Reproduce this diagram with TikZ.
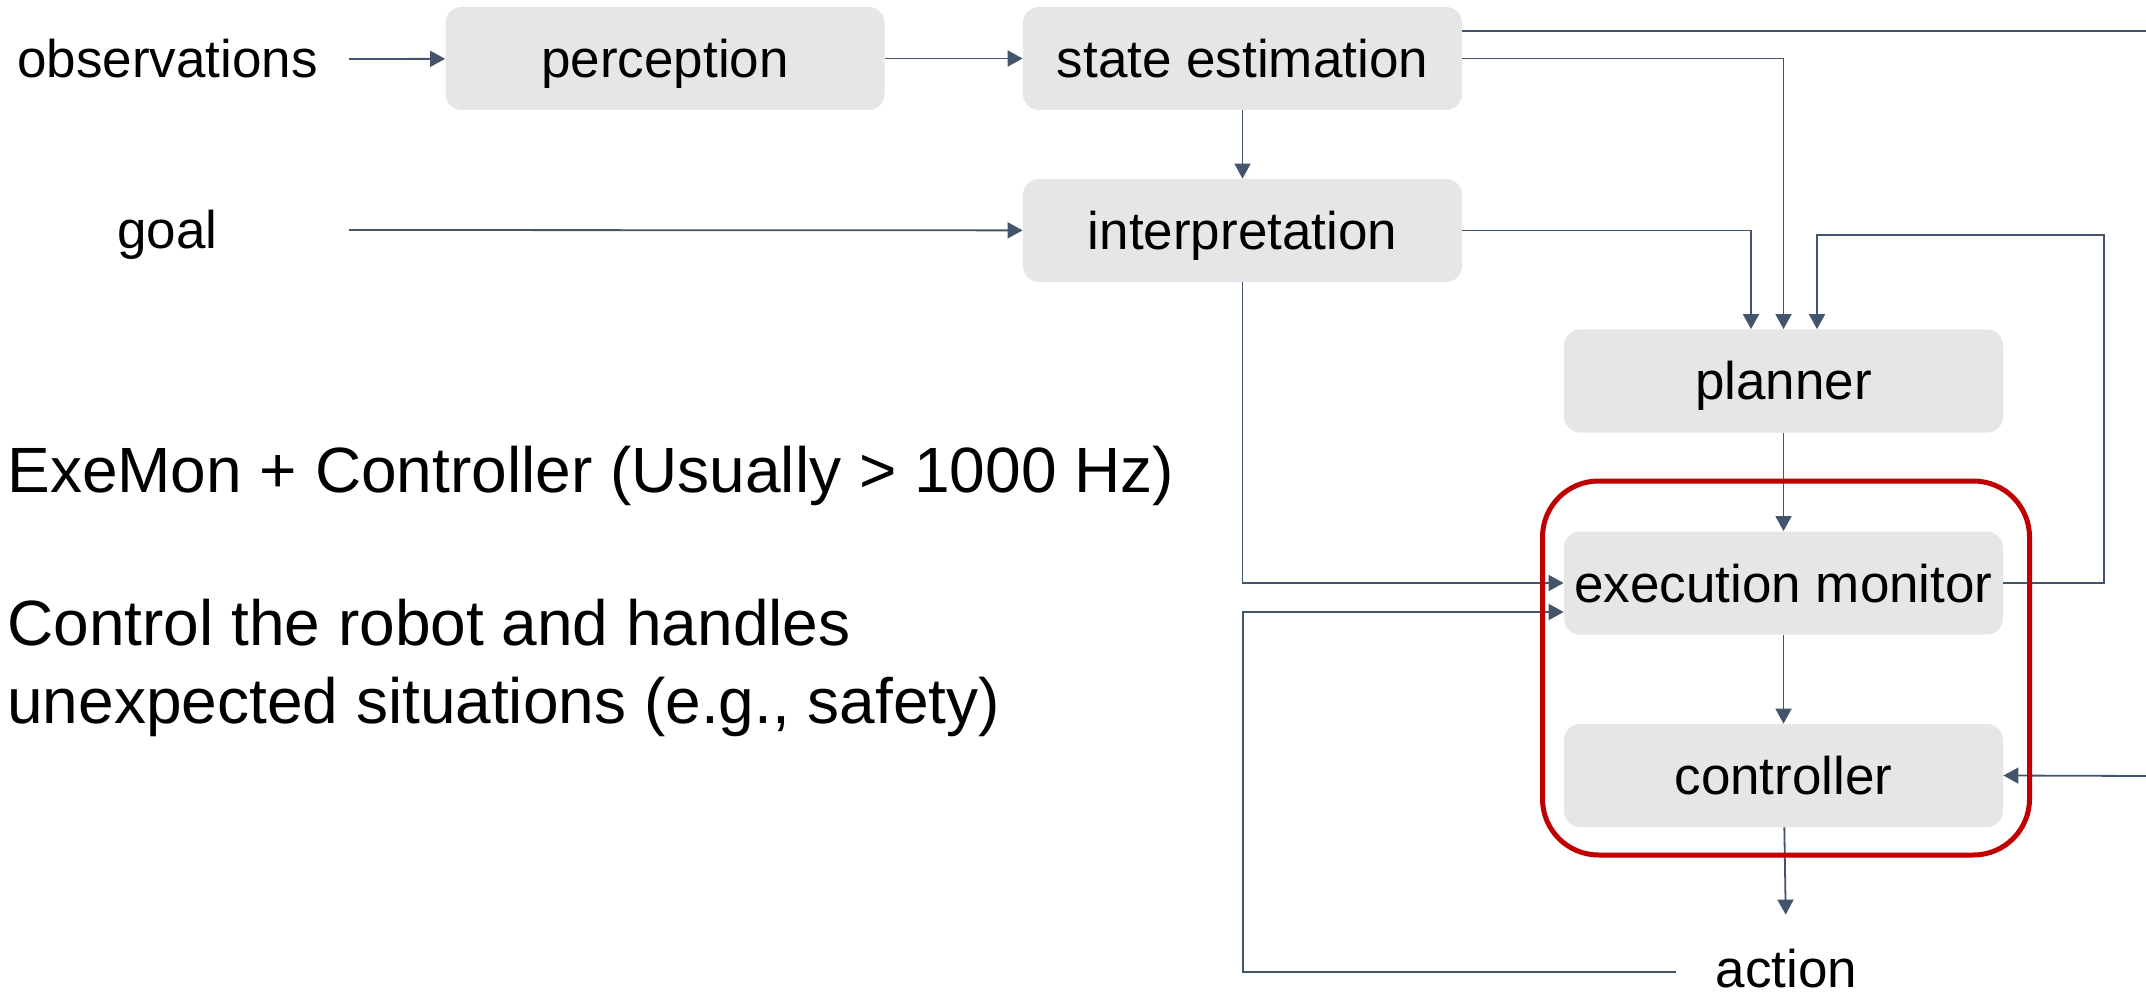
\documentclass[tikz,border=0pt]{standalone}
\usepackage{fontspec}
\setmainfont{Liberation Sans}
\usetikzlibrary{arrows.meta}

\definecolor{boxgray}{HTML}{E6E6E6}
\definecolor{wire}{HTML}{44546A}
\definecolor{framered}{HTML}{C00000}

\newcommand{\labelfont}{\fontsize{26.5}{31}\selectfont}
\newcommand{\bigfont}{\fontsize{32}{39}\selectfont}

\begin{document}
\begin{tikzpicture}[x=0.5pt, y=-0.5pt,
  stagebox/.style={fill=boxgray, rounded corners=8pt, inner sep=0pt,
    minimum width=219.5pt, minimum height=51.5pt,
    text height=23pt, text depth=4pt, font=\labelfont},
  plainlabel/.style={inner sep=0pt, text height=23pt, text depth=4pt, font=\labelfont},
  bigtext/.style={inner sep=0pt, anchor=base west, font=\bigfont},
  wireline/.style={draw=wire, line width=0.9pt},
  arr/.style={wireline, -{Triangle[length=7.5pt, width=8pt]}},
  frame/.style={draw=framered, line width=2.5pt, rounded corners=28pt}]

  \useasboundingbox (0,0) rectangle (2146,994);

  % processing stages
  \node[stagebox] (perc)   at (665,58.5)    {perception};
  \node[stagebox] (state)  at (1242.5,58.5) {state estimation};
  \node[stagebox] (interp) at (1242.5,230.5){interpretation};
  \node[stagebox] (plan)   at (1783.5,381)  {planner};
  \node[stagebox] (exec)   at (1783.5,583)  {execution monitor};
  \node[stagebox] (ctrl)   at (1783.5,775.5){controller};

  % inputs and output
  \node[plainlabel] (obs)  at (167.5,59)  {observations};
  \node[plainlabel] (goal) at (167.5,230) {goal};
  \node[plainlabel, text depth=0pt] (act) at (1786.5,964) {action};

  % explanatory text
  \node[bigtext] (title) at (7,492) {ExeMon + Controller (Usually > 1000 Hz)};
  \node[bigtext] (descA) at (7,645) {Control the robot and handles};
  \node[bigtext] (descB) at (7,723) {unexpected situations (e.g., safety)};

  % helper points for wires
  \coordinate (inx)   at (349,0);
  \coordinate (fbR)   at (2104,235);
  \coordinate (loop)  at (1243,612);
  \coordinate (rimT)  at (2146,31);
  \coordinate (rimR)  at (2146,776);

  % wires
  \draw[arr] (obs -| inx) -- (perc);
  \draw[arr] (goal -| inx) -- (interp);
  \draw[arr] (perc) -- (state);
  \draw[arr] (state) -- (interp);
  \draw[wireline] ([yshift=13.75pt]state.east) -- (rimT);
  \draw[arr] (state.east) -| (plan.north);
  \draw[arr] (interp.east) -| ([xshift=-16.25pt]plan.north);
  \draw[arr] (exec.east) -| (fbR) -| ([xshift=16.75pt]plan.north);
  \draw[arr] (plan) -- (exec);
  \draw[arr] (exec) -- (ctrl);
  \draw[arr, shorten >=13pt] (ctrl) -- (act);
  \draw[arr] (interp.south) |- (exec.west);
  \draw[arr] ([xshift=-19.5pt, yshift=-4pt]act.west) -| (loop) -- (loop -| exec.west);
  \draw[arr] (rimR) -- (ctrl.east);

  % fast control loop
  \draw[frame] (1542.5,481) rectangle (2029.5,855);
\end{tikzpicture}
\end{document}
